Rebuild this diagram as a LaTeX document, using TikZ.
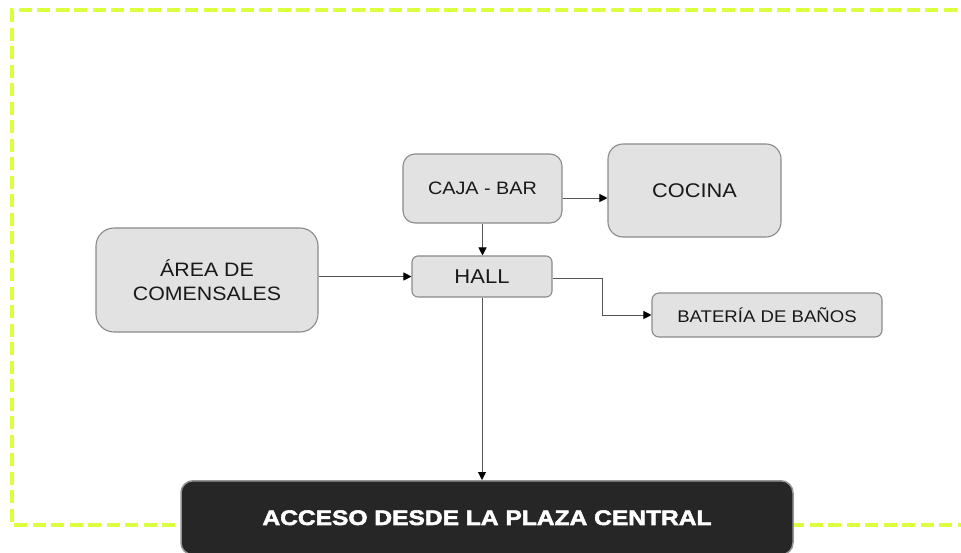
\documentclass[tikz,border=0pt]{standalone}
\usepackage{fontspec}
\setmainfont{Liberation Sans}
\newfontfamily\boxfont[FakeStretch=1.1]{Liberation Sans}
\newfontfamily\accfont[FakeStretch=1.17,FakeBold=2.5]{Liberation Sans Bold}
\usetikzlibrary{arrows.meta}
\definecolor{lime}{RGB}{218,255,60}
\definecolor{boxfill}{RGB}{226,226,226}
\definecolor{boxline}{RGB}{138,138,138}
\definecolor{connline}{RGB}{85,85,85}
\definecolor{accfill}{RGB}{38,38,38}
\tikzset{
  area/.style={draw=boxline, line width=1.1pt, fill=boxfill, align=center,
    text=black!90, inner sep=0pt},
  fs/.style={font={\boxfont\fontsize{#1}{24}\selectfont}},
  conn/.style={draw=connline, line width=0.9pt,
    -{Triangle[length=8pt,width=8pt,fill=black,color=black]}},
  accbox/.style={draw=boxline!90, line width=1.5pt, fill=accfill, rounded corners=12pt,
    text=white, inner sep=0pt, font={\accfont\fontsize{21}{25}\selectfont}},
  limeframe/.style={draw=lime, line width=4pt, dash pattern=on 13pt off 5.5pt}
}
\begin{document}
\begin{tikzpicture}[x=1pt,y=-1pt]
\useasboundingbox[fill=white] (0,0) rectangle (961,552);
% dashed frame
\draw[limeframe] (975,10) -- (12,10) -- (12,525) -- (975,525);
% nodes
\node (caja) [area, fs=18, rounded corners=12pt, minimum width=159pt, minimum height=69pt]
  at (482.5,188.5) {CAJA - BAR};
\node (cocina) [area, fs=19.8, rounded corners=15pt, minimum width=173pt, minimum height=93pt]
  at (694.5,190.5) {COCINA};
\node (comensales) [area, fs=19.4, rounded corners=18pt, minimum width=222pt, minimum height=104pt]
  at (207,280) {ÁREA DE\\COMENSALES};
\node (hall) [area, fs=20, rounded corners=6pt, minimum width=140pt, minimum height=41pt]
  at (482,276.5) {HALL};
\node (banos) [area, fs=16.9, rounded corners=7pt, minimum width=230pt, minimum height=44pt]
  at (767,315) {BATERÍA DE BAÑOS};
\node (acceso) [accbox, anchor=north, minimum width=612pt, minimum height=74pt]
  at (487,480) {ACCESO DESDE LA PLAZA CENTRAL};
% connectors
\draw[conn] ([yshift=-9.5pt]caja.east) -- ([yshift=-9.5pt]caja.east -| cocina.west);
\draw[conn] (caja.south) -- (caja.south |- hall.north);
\draw[conn] (comensales.east |- hall.west) -- (hall.west);
\draw[conn] ([yshift=-1.5pt]hall.east) -- ++(50,0) |- (banos.west);
\draw[conn] (hall.south) -- (hall.south |- acceso.north);
\end{tikzpicture}
\end{document}
